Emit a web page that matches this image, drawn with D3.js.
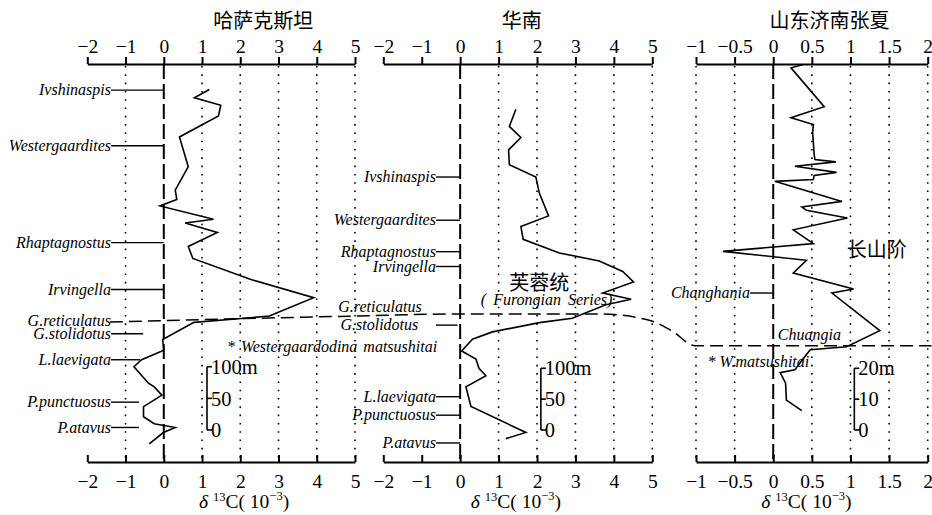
<!DOCTYPE html>
<html>
<head>
<meta charset="utf-8">
<script src="https://cdn.jsdelivr.net/npm/d3@7"></script>
<style>
  body { margin: 0; background: #fff; }
  svg { font-family: "Liberation Serif", "Times New Roman", serif; }
  .cjk { font-family: "Noto Sans CJK SC", sans-serif; }
</style>
</head>
<body>
<svg class="chart" width="932" height="515"></svg>
<script>
// 哈萨克斯坦 section: depth (m) and δ13C (‰)
const kazDepth = [538, 525, 513, 496, 463, 416, 379, 364, 354, 333, 327, 312, 290, 271, 238, 209, 180, 170, 143, 126, 111, 100, 74, 68, 55, 37, 21, 10, 4, -4, -22]
const kazD13C = [1.19, 0.80, 1.49, 1.43, 0.41, 0.64, 0.30, 0.34, -0.10, 1.30, 0.56, 1.40, 0.64, 0.76, 2.26, 3.92, 2.76, 0.79, -0.03, 0.00, -0.58, -0.78, -0.40, -0.25, -0.05, -0.53, -0.53, -0.25, 0.30, -0.01, -0.38]

// 华南 section
const scDepth = [520, 492, 474, 454, 430, 410, 384, 347, 330, 309, 287, 274, 257, 240, 222, 212, 203, 181, 174, 159, 147, 128, 115, 100, 88, 70, 38, -4, -14]
const scD13C = [1.45, 1.28, 1.58, 1.26, 1.28, 1.97, 2.06, 2.30, 1.58, 1.64, 2.58, 3.62, 4.23, 4.51, 3.71, 4.45, 3.79, 2.92, 2.06, 0.84, 0.32, 0.04, 0.41, 0.49, 0.67, 0.15, 0.28, 1.71, 1.19]

// 山东济南张夏 section
const sdDepth = [118.5, 117.4, 104.8, 101.2, 99.0, 96.5, 89.3, 87.7, 86.9, 85.5, 83.5, 82.5, 81.2, 80.6, 74.1, 72.3, 71.2, 68.7, 64.9, 60.4, 57.9, 55.0, 50.9, 45.7, 44.4, 32.2, 27.0, 26.0, 23.8, 19.5, 18.6, 15.2, 9.7, 6.3]
const sdD13C = [0.39, 0.23, 0.66, 0.23, 0.52, 0.51, 0.53, 0.54, 0.81, 0.28, 0.82, 0.53, 0.52, 0.02, 0.89, 0.37, 0.43, 0.96, 0.26, 0.52, -0.65, 0.43, 0.26, 1.04, 0.76, 1.38, 0.95, 0.48, 0.41, 0.28, 0.09, 0.16, 0.17, 0.37]

// tick labels
const kazTicks = [-2, -1, 0, 1, 2, 3, 4, 5]
const scTicks = [-2, -1, 0, 1, 2, 3, 4, 5]
const sdTicks = [-1, -0.5, 0, 0.5, 1, 1.5, 2]
const kazGrid = [-1, 1, 2, 3, 4, 5]
const scGrid = [1, 2, 3, 4, 5]
const sdGrid = [-1, -0.5, 0.5, 1, 1.5, 2]

// biozones: name, depth, where the text ends and where the leader line runs (δ13C units)
const kazZones = ['Ivshinaspis', 'Westergaardites', 'Rhaptagnostus', 'Irvingella', 'G.reticulatus', 'G.stolidotus', 'L.laevigata', 'P.punctuosus', 'P.atavus']
const kazZoneDepth = [537, 449, 296, 222, 173, 152, 111, 44, 4]
const kazZoneText = [-1.38, -1.38, -1.38, -1.38, -1.38, -1.38, -1.38, -1.38, -1.38]
const kazZoneLine = [[-1.38, 0], [-1.38, 0], [-1.38, 0], [-1.38, 0], null, [-1.38, -0.54], [-1.38, -0.62], [-1.38, -0.65], [-1.38, -0.65]]

const scZones = ['Ivshinaspis', 'Westergaardites', 'Rhaptagnostus', 'Irvingella', 'G.reticulatus', 'G.stolidotus', 'L.laevigata', 'P.punctuosus', 'P.atavus']
const scZoneDepth = [410, 340, 289, 265, 200, 170, 54, 24, -21]
const scZoneText = [-0.63, -0.63, -0.63, -0.63, -1.0, -1.09, -0.63, -0.63, -0.63]
const scZoneLine = [[-0.63, 0], [-0.63, 0], [-0.63, 0], [-0.63, 0], null, [-0.63, -0.07], [-0.63, 0], [-0.63, 0], [-0.63, 0]]

const sdZones = ['Changhania']
const sdZoneDepth = [44.4]
const sdZoneText = [-0.30]
const sdZoneLine = [[-0.30, 0]]

// scale bars
const kazBar = [0, 50, 100], kazBarText = ['0', '50', '100m']
const scBar = [0, 50, 100], scBarText = ['0', '50', '100m']
const sdBar = [0, 10, 20], sdBarText = ['0', '10', '20m']

// correlation line (Furongian base): panel index, δ13C, depth
const corrPanel = [0, 0, 1, 1, 1, 2, 2, 2]
const corrD13C = [-1.41, 5.0, -0.03, 3.62, 4.92, -1.31, -1.01, 2.05]
const corrDepth = [170.6, 180, 188, 188, 178, 32.1, 27.3, 27.3]

const axisY0 = 64, axisY1 = 462

const panels = [
  { title: '哈萨克斯坦', titleAt: 2.6, labelAt: 2.1, xr: [87.3, 355], dom: [-2, 5], yd: [0, 100], yr: [430, 366.7],
    depth: kazDepth, val: kazD13C, ticks: kazTicks, grid: kazGrid,
    zones: kazZones, zDepth: kazZoneDepth, zText: kazZoneText, zLine: kazZoneLine,
    bar: kazBar, barText: kazBarText, barAt: 1.13 },
  { title: '华南', titleAt: 1.6, labelAt: 1.45, xr: [383.3, 652.3], dom: [-2, 5], yd: [0, 100], yr: [430, 368.3],
    depth: scDepth, val: scD13C, ticks: scTicks, grid: scGrid,
    zones: scZones, zDepth: scZoneDepth, zText: scZoneText, zLine: scZoneLine,
    bar: scBar, barText: scBarText, barAt: 2.1 },
  { title: '山东济南张夏', titleAt: 0.73, labelAt: 0.43, xr: [696, 927.7], dom: [-1, 2], yd: [0, 20], yr: [430, 368.3],
    depth: sdDepth, val: sdD13C, ticks: sdTicks, grid: sdGrid,
    zones: sdZones, zDepth: sdZoneDepth, zText: sdZoneText, zLine: sdZoneLine,
    bar: sdBar, barText: sdBarText, barAt: 1.05 }
]

const fmt = d => (d < 0 ? '\u2212' : '') + Math.abs(d)

const svg = d3.select('.chart')

panels.forEach(p => {
  p.x = d3.scaleLinear().domain(p.dom).range(p.xr)
  p.y = d3.scaleLinear().domain(p.yd).range(p.yr)
})

panels.forEach(p => {
  const g = svg.append('g')

  // dotted grid
  g.selectAll('.grid')
    .data(p.grid)
    .enter()
    .append('line')
    .attr('x1', d => p.x(d))
    .attr('x2', d => p.x(d))
    .attr('y1', axisY0 + 2)
    .attr('y2', axisY1 - 2)
    .attr('stroke', '#000')
    .attr('stroke-width', 1.6)
    .attr('stroke-dasharray', '1.6,6.7')

  // zero line
  g.append('line')
    .attr('x1', p.x(0)).attr('x2', p.x(0))
    .attr('y1', axisY0).attr('y2', axisY1)
    .attr('stroke', '#000')
    .attr('stroke-width', 2)
    .attr('stroke-dasharray', '15,5')

  const axTop = d3.axisTop(p.x).tickValues(p.ticks).tickFormat(fmt)
    .tickSizeInner(7).tickSizeOuter(0).tickPadding(4)
  const axBot = d3.axisBottom(p.x).tickValues(p.ticks).tickFormat(fmt)
    .tickSizeInner(-7).tickSizeOuter(0).tickPadding(12)

  ;[[axTop, axisY0], [axBot, axisY1]].forEach(([ax, yy]) => {
    const a = g.append('g')
      .attr('transform', `translate(0, ${yy})`)
      .call(ax)
    a.select('.domain').attr('stroke-width', 2.2)
    a.selectAll('.tick line').attr('stroke-width', 2)
    a.selectAll('.tick text')
      .attr('font-family', '"Liberation Serif", serif')
      .attr('font-size', 19.5)
      .attr('fill', '#000')
  })

  // title
  g.append('text')
    .attr('class', 'cjk')
    .attr('x', p.x(p.titleAt))
    .attr('y', 28)
    .attr('text-anchor', 'middle')
    .attr('font-size', 20)
    .text(p.title)

  // axis label δ13C(10−3)
  const lab = g.append('text')
    .attr('x', p.x(p.labelAt))
    .attr('y', 508)
    .attr('text-anchor', 'middle')
    .attr('font-size', 19.5)
  lab.append('tspan').attr('font-style', 'italic').text('δ ')
  lab.append('tspan').attr('font-size', 12.5).attr('dy', -7).text('13')
  lab.append('tspan').attr('dy', 7).text('C( 10')
  lab.append('tspan').attr('font-size', 12.5).attr('dy', -8).text('\u22123')
  lab.append('tspan').attr('dy', 8).text(')')

  // biozone labels
  p.zones.forEach((name, i) => {
    const yy = p.y(p.zDepth[i])
    g.append('text')
      .attr('x', p.x(p.zText[i]))
      .attr('y', yy)
      .attr('dy', '0.32em')
      .attr('text-anchor', 'end')
      .attr('font-style', 'italic')
      .attr('font-size', 16)
      .text(name)
    if (p.zLine[i]) {
      g.append('line')
        .attr('x1', p.x(p.zLine[i][0]))
        .attr('x2', p.x(p.zLine[i][1]))
        .attr('y1', yy).attr('y2', yy)
        .attr('stroke', '#000')
        .attr('stroke-width', 1.4)
    }
  })

  // scale bar
  const bx = p.x(p.barAt)
  g.append('line')
    .attr('x1', bx).attr('x2', bx)
    .attr('y1', p.y(p.bar[0])).attr('y2', p.y(p.bar[p.bar.length - 1]))
    .attr('stroke', '#000').attr('stroke-width', 1.6)
  p.bar.forEach((b, i) => {
    g.append('line')
      .attr('x1', bx).attr('x2', bx + 5)
      .attr('y1', p.y(b)).attr('y2', p.y(b))
      .attr('stroke', '#000').attr('stroke-width', 1.6)
    g.append('text')
      .attr('x', bx + 4)
      .attr('y', p.y(b))
      .attr('dy', '0.35em')
      .attr('font-size', 20.5)
      .text(p.barText[i])
  })

  // δ13C curve
  const line = d3.line()
    .x(d => p.x(d[1]))
    .y(d => p.y(d[0]))
  g.append('path')
    .datum(d3.zip(p.depth, p.val))
    .attr('d', line)
    .attr('fill', 'none')
    .attr('stroke', '#000')
    .attr('stroke-width', 1.6)
    .attr('stroke-linejoin', 'miter')
})

// extra annotations
const [pk, ps, pd] = panels
svg.append('text')
  .attr('x', pk.x(1.65)).attr('y', pk.y(131.6)).attr('dy', '0.32em')
  .attr('font-size', 16).attr('font-style', 'italic')
  .attr('word-spacing', 2)
  .text('* Westergaardodina matsushitai')

svg.append('text')
  .attr('class', 'cjk')
  .attr('x', ps.x(2.06)).attr('y', ps.y(240)).attr('dy', '0.38em')
  .attr('text-anchor', 'middle')
  .attr('font-size', 20)
  .text('芙蓉统')

svg.append('text')
  .attr('x', ps.x(2.25)).attr('y', ps.y(210.7)).attr('dy', '0.32em')
  .attr('text-anchor', 'middle')
  .attr('font-size', 16).attr('font-style', 'italic')
  .attr('word-spacing', 3)
  .text('( Furongian Series)')

svg.append('text')
  .attr('class', 'cjk')
  .attr('x', pd.x(1.34)).attr('y', pd.y(58.4)).attr('dy', '0.38em')
  .attr('text-anchor', 'middle')
  .attr('font-size', 20)
  .text('长山阶')

svg.append('text')
  .attr('x', pd.x(0.06)).attr('y', pd.y(30.8)).attr('dy', '0.32em')
  .attr('font-size', 16).attr('font-style', 'italic')
  .text('Chuangia')

svg.append('text')
  .attr('x', pd.x(-0.85)).attr('y', pd.y(22.2)).attr('dy', '0.32em')
  .attr('font-size', 16).attr('font-style', 'italic')
  .text('* W.matsushitai')

// correlation dashed line
const corr = d3.line()
  .x((d, i) => panels[corrPanel[i]].x(d[0]))
  .y((d, i) => panels[corrPanel[i]].y(d[1]))
  .curve(d3.curveMonotoneX)
svg.append('path')
  .datum(d3.zip(corrD13C, corrDepth))
  .attr('d', corr)
  .attr('fill', 'none')
  .attr('stroke', '#000')
  .attr('stroke-width', 1.5)
  .attr('stroke-dasharray', '13,6')
</script>
</body>
</html>
